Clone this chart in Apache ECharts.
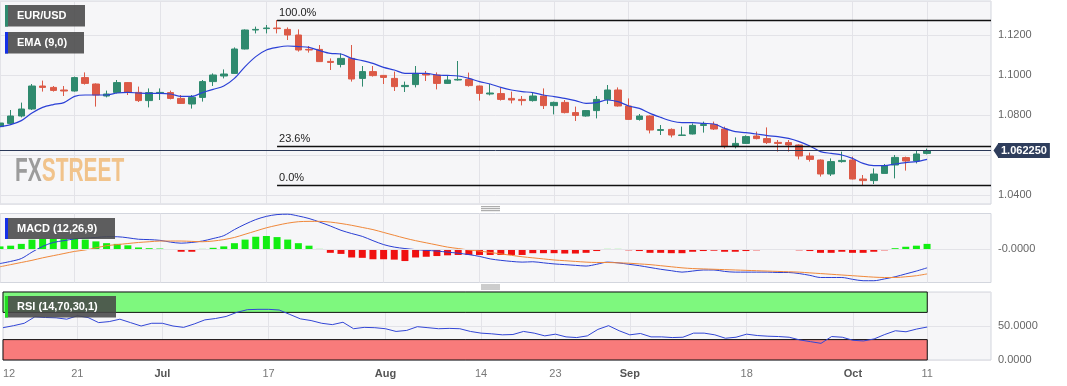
<!DOCTYPE html>
<html><head><meta charset="utf-8">
<script src="https://cdn.jsdelivr.net/npm/echarts@6/dist/echarts.min.js"></script>
<style>html,body{margin:0;padding:0;background:#fff}#c{width:1067px;height:386px}</style>
</head><body><div id="c"></div>
<script>
// ---------------- DATA ----------------
const dates = ['2023-06-12','2023-06-13','2023-06-14','2023-06-15','2023-06-16','2023-06-19','2023-06-20','2023-06-21','2023-06-22','2023-06-23','2023-06-26','2023-06-27','2023-06-28','2023-06-29','2023-06-30','2023-07-03','2023-07-04','2023-07-05','2023-07-06','2023-07-07','2023-07-10','2023-07-11','2023-07-12','2023-07-13','2023-07-14','2023-07-17','2023-07-18','2023-07-19','2023-07-20','2023-07-21','2023-07-24','2023-07-25','2023-07-26','2023-07-27','2023-07-28','2023-07-31','2023-08-01','2023-08-02','2023-08-03','2023-08-04','2023-08-07','2023-08-08','2023-08-09','2023-08-10','2023-08-11','2023-08-14','2023-08-15','2023-08-16','2023-08-17','2023-08-18','2023-08-21','2023-08-22','2023-08-23','2023-08-24','2023-08-25','2023-08-28','2023-08-29','2023-08-30','2023-08-31','2023-09-01','2023-09-04','2023-09-05','2023-09-06','2023-09-07','2023-09-08','2023-09-11','2023-09-12','2023-09-13','2023-09-14','2023-09-15','2023-09-18','2023-09-19','2023-09-20','2023-09-21','2023-09-22','2023-09-25','2023-09-26','2023-09-27','2023-09-28','2023-09-29','2023-10-02','2023-10-03','2023-10-04','2023-10-05','2023-10-06','2023-10-09','2023-10-10','2023-10-11'];
const padSlots = ['p1','p2','p3','p4','p5','p6'];

const opens  = [1.0742,1.0758,1.0795,1.0830,1.0945,1.0938,1.0925,1.0920,1.0987,1.0955,1.0895,1.0913,1.0962,1.0913,1.0872,1.0908,1.0912,1.0883,1.0855,1.0888,1.0967,1.0995,1.1008,1.1130,1.1225,1.1232,1.1235,1.1228,1.1200,1.1128,1.1128,1.1068,1.1053,1.1083,1.0983,1.1017,1.0998,1.0983,1.0942,1.0952,1.1005,1.1000,1.0958,1.0975,1.0978,1.0945,1.0905,1.0907,1.0883,1.0878,1.0872,1.0895,1.0847,1.0863,1.0812,1.0795,1.0822,1.0878,1.0925,1.0845,1.0778,1.0795,1.0723,1.0728,1.0698,1.0705,1.0748,1.0753,1.0730,1.0642,1.0658,1.0695,1.0682,1.0663,1.0662,1.0650,1.0595,1.0575,1.0505,1.0567,1.0575,1.0480,1.0472,1.0508,1.0550,1.0587,1.0570,1.0608];
const highs  = [1.0795,1.0825,1.0862,1.0955,1.0972,1.0945,1.0945,1.0992,1.1013,1.0958,1.0922,1.0975,1.0965,1.0942,1.0933,1.0933,1.0922,1.0900,1.0900,1.0975,1.1008,1.1028,1.1138,1.1228,1.1242,1.1250,1.1275,1.1238,1.1228,1.1145,1.1150,1.1083,1.1108,1.1150,1.1045,1.1045,1.1000,1.1017,1.0967,1.1045,1.1020,1.1013,1.1000,1.1070,1.1012,1.0947,1.0955,1.0937,1.0917,1.0895,1.0912,1.0933,1.0867,1.0875,1.0842,1.0825,1.0895,1.0950,1.0938,1.0883,1.0805,1.0798,1.0750,1.0733,1.0742,1.0758,1.0767,1.0767,1.0742,1.0688,1.0698,1.0717,1.0738,1.0675,1.0675,1.0653,1.0612,1.0578,1.0583,1.0617,1.0592,1.0500,1.0533,1.0555,1.0600,1.0592,1.0622,1.0632];
const lows   = [1.0735,1.0750,1.0788,1.0825,1.0917,1.0917,1.0895,1.0917,1.0952,1.0842,1.0888,1.0908,1.0900,1.0865,1.0838,1.0875,1.0878,1.0855,1.0832,1.0867,1.0945,1.0983,1.1005,1.1128,1.1208,1.1208,1.1208,1.1175,1.1117,1.1112,1.1065,1.1025,1.1038,1.0967,1.0942,1.0992,1.0955,1.0920,1.0915,1.0938,1.0970,1.0928,1.0955,1.0972,1.0942,1.0872,1.0898,1.0872,1.0858,1.0848,1.0867,1.0830,1.0803,1.0808,1.0770,1.0792,1.0783,1.0855,1.0842,1.0775,1.0772,1.0708,1.0700,1.0688,1.0697,1.0703,1.0712,1.0725,1.0633,1.0633,1.0655,1.0678,1.0655,1.0617,1.0617,1.0578,1.0567,1.0492,1.0495,1.0562,1.0478,1.0450,1.0455,1.0508,1.0483,1.0522,1.0558,1.0603];
const closes = [1.0760,1.0795,1.0830,1.0945,1.0938,1.0923,1.0920,1.0987,1.0958,1.0900,1.0905,1.0962,1.0913,1.0872,1.0912,1.0913,1.0883,1.0858,1.0888,1.0967,1.1000,1.1005,1.1130,1.1225,1.1228,1.1235,1.1232,1.1200,1.1125,1.1125,1.1067,1.1063,1.1083,1.0980,1.1017,1.0997,1.0988,1.0942,1.0948,1.1008,1.1000,1.0958,1.0975,1.0978,1.0947,1.0908,1.0910,1.0878,1.0875,1.0872,1.0895,1.0847,1.0863,1.0812,1.0798,1.0822,1.0878,1.0925,1.0845,1.0778,1.0795,1.0725,1.0727,1.0700,1.0700,1.0748,1.0752,1.0730,1.0642,1.0658,1.0692,1.0682,1.0662,1.0658,1.0650,1.0595,1.0578,1.0505,1.0567,1.0573,1.0480,1.0472,1.0505,1.0547,1.0588,1.0570,1.0605,1.06225];
const ema9   = [1.0742,1.0752,1.0772,1.0810,1.0838,1.0852,1.0862,1.0893,1.0900,1.0900,1.0900,1.0910,1.0913,1.0910,1.0908,1.0908,1.0905,1.0893,1.0893,1.0912,1.0928,1.0945,1.0983,1.1042,1.1092,1.1125,1.1138,1.1145,1.1142,1.1138,1.1122,1.1108,1.1105,1.1083,1.1072,1.1058,1.1038,1.1025,1.1008,1.1008,1.1008,1.1000,1.0998,1.0995,1.0983,1.0967,1.0955,1.0938,1.0925,1.0917,1.0912,1.0900,1.0892,1.0883,1.0872,1.0858,1.0862,1.0875,1.0867,1.0845,1.0833,1.0808,1.0788,1.0770,1.0762,1.0762,1.0758,1.0755,1.0733,1.0717,1.0712,1.0705,1.0697,1.0692,1.0683,1.0667,1.0645,1.0617,1.0608,1.0600,1.0583,1.0558,1.0547,1.0547,1.0555,1.0562,1.0567,1.0578];
const macdLine = [-0.0040,-0.0034,-0.0026,-0.0008,0.0008,0.0019,0.0024,0.0029,0.0031,0.0033,0.0035,0.0035,0.0032,0.0028,0.0027,0.0025,0.0020,0.0017,0.0019,0.0023,0.0030,0.0038,0.0055,0.0070,0.0083,0.0092,0.0097,0.0098,0.0093,0.0086,0.0076,0.0065,0.0053,0.0044,0.0036,0.0024,0.0013,0.0006,0.0002,-0.0001,-0.0003,-0.0005,-0.0008,-0.0011,-0.0015,-0.0020,-0.0027,-0.0031,-0.0034,-0.0036,-0.0035,-0.0038,-0.0041,-0.0043,-0.0045,-0.0047,-0.0042,-0.0036,-0.0038,-0.0042,-0.0046,-0.0051,-0.0056,-0.0060,-0.0064,-0.0061,-0.0058,-0.0058,-0.0062,-0.0064,-0.0064,-0.0064,-0.0064,-0.0065,-0.0065,-0.0068,-0.0073,-0.0079,-0.0079,-0.0079,-0.0084,-0.0088,-0.0088,-0.0083,-0.0077,-0.0069,-0.0061,-0.0052];
const signalLine = [-0.0049,-0.0043,-0.0037,-0.0031,-0.0024,-0.0018,-0.0012,-0.0006,-0.0002,0.0004,0.0010,0.0013,0.0016,0.0019,0.0021,0.0023,0.0023,0.0023,0.0022,0.0021,0.0023,0.0027,0.0033,0.0042,0.0051,0.0060,0.0067,0.0073,0.0077,0.0078,0.0078,0.0076,0.0072,0.0067,0.0061,0.0055,0.0047,0.0039,0.0031,0.0024,0.0018,0.0012,0.0006,0.0002,-0.0002,-0.0005,-0.0009,-0.0013,-0.0017,-0.0021,-0.0024,-0.0027,-0.0030,-0.0032,-0.0034,-0.0036,-0.0037,-0.0037,-0.0038,-0.0039,-0.0041,-0.0043,-0.0046,-0.0049,-0.0052,-0.0054,-0.0055,-0.0056,-0.0057,-0.0058,-0.0059,-0.0060,-0.0061,-0.0062,-0.0063,-0.0064,-0.0066,-0.0068,-0.0070,-0.0072,-0.0074,-0.0076,-0.0078,-0.0079,-0.0079,-0.0077,-0.0074,-0.0069];
const macdHist = [0.0008,0.0010,0.0015,0.0027,0.0029,0.0029,0.0029,0.0029,0.0027,0.0022,0.0017,0.0015,0.0011,0.0005,0.0003,0.0002,-0.0001,-0.0007,-0.0007,0.0001,0.0004,0.0008,0.0017,0.0027,0.0035,0.0037,0.0034,0.0027,0.0017,0.0010,0.0001,-0.0010,-0.0013,-0.0023,-0.0024,-0.0028,-0.0028,-0.0029,-0.0033,-0.0023,-0.0021,-0.0019,-0.0017,-0.0016,-0.0016,-0.0016,-0.0016,-0.0016,-0.0016,-0.0016,-0.0011,-0.0011,-0.0011,-0.0012,-0.0012,-0.0010,-0.0005,0.0001,0.0001,-0.0003,-0.0005,-0.0010,-0.0010,-0.0011,-0.0011,-0.0007,-0.0005,-0.0004,-0.0007,-0.0007,-0.0005,-0.0003,-0.0002,-0.0001,-0.0001,-0.0003,-0.0005,-0.0010,-0.0010,-0.0007,-0.0010,-0.0010,-0.0007,-0.0003,0.0003,0.0007,0.0010,0.0015];
const rsi = [47.5,50.5,54,63.5,62.5,62,60,65,62.5,55,56.5,60,55,50,54,54,50,48,53,59,61,64,70,74,74.5,74.5,73.5,67,60.5,58,54,52,55.5,46,48,47.5,46,42,43.5,49,47.5,46,46.5,46,42,39.5,38.5,37,37.5,42,39.5,35.5,38,34,33,35.5,45,50.5,43,37,39,34,34,33,33.5,39.5,39.5,37,32,33.5,38,36,35,34.5,33.5,29.5,27,24.5,34.5,33.5,29,28,31,37.5,43,41.5,45.5,48.5];

const fibLevels = [1.1275, 1.0645, 1.0450];
const fibLabels = ['100.0%', '23.6%', '0.0%'];
const fibStartDate = '2023-07-18';
const tickDates  = ['2023-06-12','2023-06-21','2023-07-03','2023-07-17','2023-08-01','2023-08-14','2023-08-23','2023-09-01','2023-09-18','2023-10-02','2023-10-11'];
const tickLabels = ['12','21','Jul','17','Aug','14','23','Sep','18','Oct','11'];
const monthLabels = ['Jul','Aug','Sep','Oct'];

// ---------------- CHART ----------------
const FONT = '"Liberation Sans", Arial, sans-serif';
const cats = dates.concat(padSlots);
const tickMap = new Map(tickDates.map((d, i) => [d, tickLabels[i]]));
const isTick = (idx, val) => tickMap.has(val);
const lastPrice = closes[closes.length - 1];
const UP = '#2f8a6e', DOWN = '#dc5a47';
const GRID_LINE = '#e3e3e8';

const candles = dates.map((d, i) => [opens[i], closes[i], lows[i], highs[i]]);

function xAxisFor(gi, showLabels) {
  return {
    type: 'category', gridIndex: gi, data: cats, boundaryGap: false,
    axisLine: {show: false}, axisTick: {show: false},
    axisLabel: showLabels ? {
      show: true, interval: isTick, color: '#777', fontSize: 11, margin: 8,
      fontFamily: FONT, alignMinLabel: 'left',
      formatter: v => { const t = tickMap.get(v); if (!t) return ''; return monthLabels.includes(t) ? '{b|' + t + '}' : t; },
      rich: {b: {fontWeight: 'bold', color: '#555', fontSize: 11, fontFamily: FONT}}
    } : {show: false},
    splitLine: {show: true, interval: isTick, lineStyle: {color: GRID_LINE, width: 1}}
  };
}

const gridBase = {show: true, backgroundColor: '#f6f6f8', borderColor: '#d3d6de', borderWidth: 1, left: -0.7, width: 991.7};

function legendBox(x, y, w, h, stripe, text) {
  return {type: 'group', x: x, y: y, z: 100, children: [
    {type: 'rect', z: 100, shape: {x: 0, y: 0, width: w, height: h}, style: {fill: 'rgba(72,72,72,0.88)'}},
    {type: 'rect', z: 101, shape: {x: 0, y: 0, width: 3, height: h}, style: {fill: stripe}},
    {type: 'text', z: 102, x: 12, y: h / 2, style: {text: text, fill: '#fff', font: 'bold 11px ' + FONT, verticalAlign: 'middle'}}
  ]};
}
function handle(x, y) {
  return {type: 'group', x: x, y: y, children: [0, 2, 4].map(dy => ({
    type: 'line', shape: {x1: 0, y1: dy, x2: 19, y2: dy}, style: {stroke: '#9a9a9a', lineWidth: 1}
  }))};
}

const chart = echarts.init(document.getElementById('c'), null, {renderer: 'canvas'});
chart.setOption({
  animation: false,
  textStyle: {fontFamily: FONT},
  grid: [
    Object.assign({}, gridBase, {top: 1, height: 203}),
    Object.assign({}, gridBase, {top: 213.5, height: 69}),
    Object.assign({}, gridBase, {top: 292, height: 68})
  ],
  xAxis: [xAxisFor(0, false), xAxisFor(1, false), xAxisFor(2, true)],
  yAxis: [
    {type: 'value', gridIndex: 0, position: 'right', min: 1.0355, max: 1.137, splitNumber: 5,
     axisLine: {show: false}, axisTick: {show: false},
     axisLabel: {showMinLabel: false, showMaxLabel: false, color: '#666', fontSize: 11, margin: 7,
       formatter: v => Math.abs(v - 1.06) < 1e-6 ? '' : v.toFixed(4)},
     splitLine: {lineStyle: {color: GRID_LINE}}},
    {type: 'value', gridIndex: 1, position: 'right', min: -0.0093, max: 0.0100,
     axisLine: {show: false}, axisTick: {show: false},
     axisLabel: {color: '#666', fontSize: 11, margin: 7, formatter: v => Math.abs(v) < 1e-9 ? '-0.0000' : ''},
     splitLine: {show: false}},
    {type: 'value', gridIndex: 2, position: 'right', min: 0, max: 100, interval: 50,
     axisLine: {show: false}, axisTick: {show: false},
     axisLabel: {showMaxLabel: false, color: '#666', fontSize: 11, margin: 7, formatter: v => v.toFixed(4)},
     splitLine: {lineStyle: {color: GRID_LINE}}}
  ],
  series: [
    {type: 'candlestick', name: 'EUR/USD', xAxisIndex: 0, yAxisIndex: 0, data: candles, barWidth: 7,
     itemStyle: {color: UP, color0: DOWN, borderColor: UP, borderColor0: DOWN, borderWidth: 1},
     markLine: {silent: true, symbol: ['none', 'none'], animation: false,
       data: fibLevels.map((lv, k) => [
         {coord: [fibStartDate, lv], lineStyle: {color: '#111', width: 1.3, type: 'solid'},
          label: {show: true, formatter: fibLabels[k], position: 'insideStartTop', color: '#222', fontSize: 11, distance: 2, padding: 0}},
         {coord: [cats[cats.length - 1], lv]}
       ]).concat([[
         {coord: [cats[0], lastPrice], lineStyle: {color: '#2a3858', width: 1, type: 'solid'},
          label: {show: true, position: 'end', formatter: lastPrice.toFixed(6), color: '#fff', fontWeight: 'bold',
                  fontSize: 11, lineHeight: 11, backgroundColor: '#2e3d5c', padding: [2, 3, 2, 3], distance: 7}},
         {coord: [cats[cats.length - 1], lastPrice]}
       ]])
     },
     markPoint: {silent: true, animation: false,
       data: [{coord: [cats[cats.length - 1], lastPrice], symbol: 'triangle', symbolRotate: 90, symbolSize: [15, 5],
               symbolOffset: [5, 0], itemStyle: {color: '#2e3d5c'}, label: {show: false}}]}
    },
    {type: 'line', name: 'EMA (9,0)', xAxisIndex: 0, yAxisIndex: 0, data: ema9, showSymbol: false, smooth: 0.3,
     lineStyle: {color: '#2b40d6', width: 1.2}, z: 3},
    {type: 'bar', name: 'Histogram', xAxisIndex: 1, yAxisIndex: 1, barWidth: 7,
     data: macdHist.map(v => ({value: v, itemStyle: {color: v >= 0 ? '#12ee12' : '#f01010'}})),
     markLine: {silent: true, symbol: ['none', 'none'], label: {show: false},
       data: [{yAxis: 0}], lineStyle: {color: GRID_LINE, type: 'solid', width: 1}}},
    {type: 'line', name: 'MACD', xAxisIndex: 1, yAxisIndex: 1, data: macdLine, showSymbol: false, smooth: 0.3,
     lineStyle: {color: '#2a3fd4', width: 1}},
    {type: 'line', name: 'Signal', xAxisIndex: 1, yAxisIndex: 1, data: signalLine, showSymbol: false, smooth: 0.3,
     lineStyle: {color: '#f0883a', width: 1}},
    {type: 'line', name: 'RSI', xAxisIndex: 2, yAxisIndex: 2, data: rsi, showSymbol: false,
     lineStyle: {color: '#3246d6', width: 1}, z: 3,
     markArea: {silent: true, itemStyle: {borderColor: '#111', borderWidth: 1},
       data: [
         [{coord: [dates[0], 70], itemStyle: {color: '#7ef87e'}}, {coord: [dates[dates.length - 1], 100]}],
         [{coord: [dates[0], 0], itemStyle: {color: '#f87b7b'}}, {coord: [dates[dates.length - 1], 30]}]
       ]}}
  ],
  graphic: [
    {type: 'text', x: 15, y: 155, scaleX: 0.615, scaleY: 1, silent: true, z: 50,
     style: {text: '{a|FX}{b|STREET}', rich: {
       a: {fill: '#9c9c9c', font: 'bold 34px ' + FONT},
       b: {fill: '#f1c38b', font: 'bold 34px ' + FONT}}}},
    legendBox(5, 5, 80, 21.5, '#2f8a6e', 'EUR/USD'),
    legendBox(5, 32, 79, 21.5, '#1530e8', 'EMA (9,0)'),
    legendBox(5, 218, 110, 21, '#1530e8', 'MACD (12,26,9)'),
    legendBox(5, 296, 111, 21.5, '#22dd22', 'RSI (14,70,30,1)'),
    handle(481, 206.7),
    handle(481, 285)
  ]
});
</script>
</body></html>
